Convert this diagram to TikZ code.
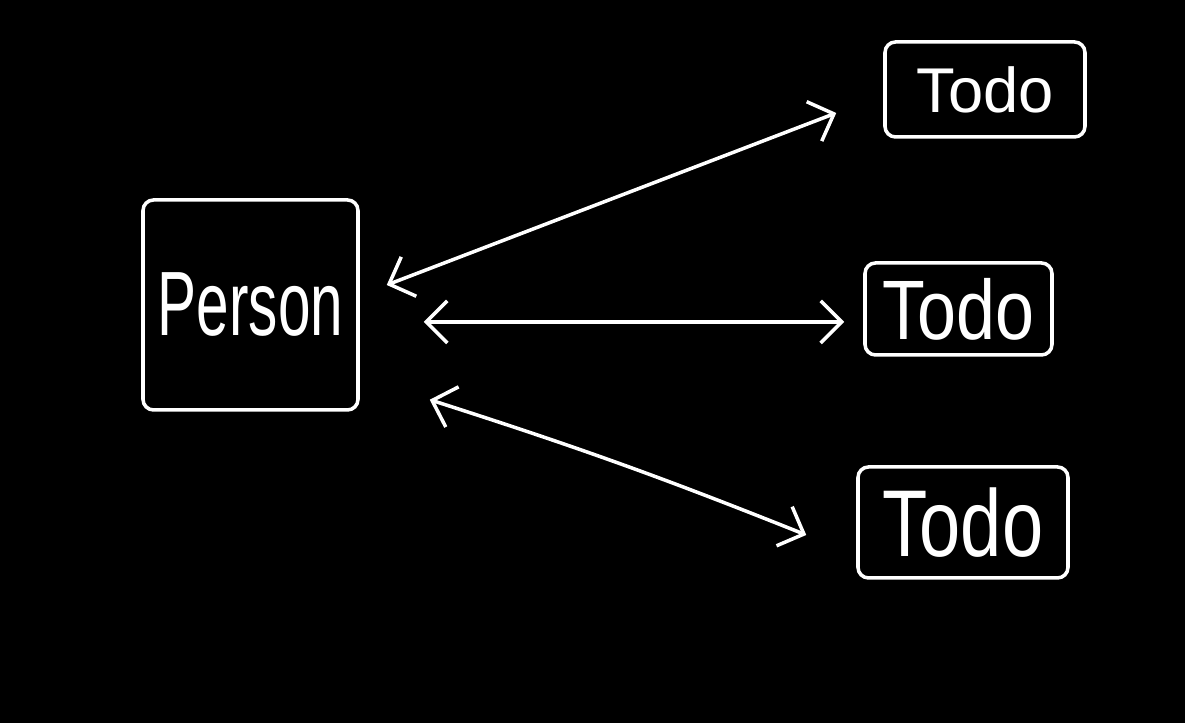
\documentclass[tikz,border=0pt]{standalone}
\usepackage{fontspec}
\setmainfont{Liberation Sans}
\usetikzlibrary{arrows.meta,positioning}
\tikzset{
	entity/.style={
		draw=white, line width=1pt, rectangle,
		inner sep=0pt, text=white, rounded corners=3pt
	},
	link/.style={<->, white, line width=1pt, line cap=round,
		>={Straight Barb[length=6pt,width=12pt]}}
}
\newcommand{\hand}[3]{\fontsize{#1}{#1}\selectfont\scalebox{#2}[1]{#3}}

\begin{document}
\begin{tikzpicture}
	\fill[black] (0,0) rectangle (11.85,7.23);
	\node[entity, minimum width=2.15cm, minimum height=2.10cm] (person) at (2.505,4.18) {\hand{26pt}{0.64}{Person}};
	\node[entity, minimum width=2.00cm, minimum height=0.95cm] (todo1) at (9.85,6.335) {\hand{18pt}{1.0}{Todo}};
	\node[entity, minimum width=1.87cm, minimum height=0.92cm] (todo2) at (9.585,4.14) {\hand{24pt}{0.83}{Todo}};
	\node[entity, minimum width=2.10cm, minimum height=1.11cm] (todo3) at (9.63,2.005) {\hand{27pt}{0.78}{Todo}};
	\draw[link] ([xshift=0.27cm,yshift=0.2cm]person.east) -- ([xshift=-0.47cm,yshift=-0.235cm]todo1.west);
	\draw[link] ([xshift=0.64cm,yshift=-0.17cm]person.east) -- ([xshift=-0.19cm,yshift=-0.13cm]todo2.west);
	\draw[link] ([xshift=0.7cm,yshift=0.12cm]person.south east) to[bend left=2] ([xshift=-0.5cm,yshift=-0.125cm]todo3.west);
\end{tikzpicture}
\end{document}
